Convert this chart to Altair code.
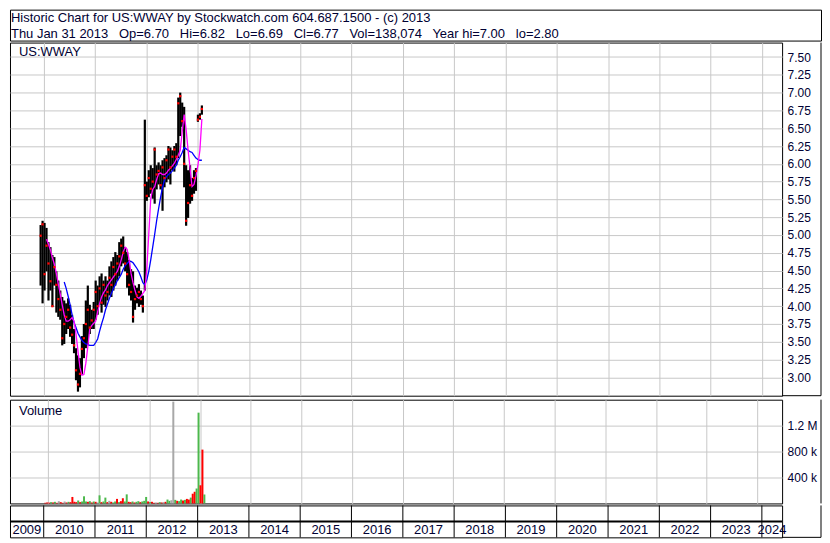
import altair as alt
import pandas as pd

FONT = "Liberation Sans"
TEXT_COLOR = "#000033"

# ---------------- text ----------------
title_line1 = "Historic Chart for US:WWAY by Stockwatch.com 604.687.1500 - (c) 2013"
title_line2_parts = ["Thu Jan 31 2013", "Op=6.70", "Hi=6.82", "Lo=6.69", "Cl=6.77",
                     "Vol=138,074", "Year hi=7.00", "lo=2.80"]
symbol_label = "US:WWAY"
volume_label = "Volume"

# ---------------- data (bi-weekly bars, last = Jan 31 2013) ----------------
first_bar_date = "2009-12-10"
bar_high = [5.14, 5.20, 5.17, 5.10, 4.90, 4.83, 4.72, 4.69, 4.49, 4.36,
            4.22, 4.13, 4.08, 4.04, 4.11, 4.02, 3.88, 3.68, 3.41, 3.31,
            3.27, 3.58, 3.75, 4.08, 4.29, 4.02, 3.95, 4.06, 4.36, 4.29,
            4.42, 4.46, 4.36, 4.42, 4.36, 4.56, 4.63, 4.69, 4.76, 4.72,
            4.90, 4.95, 4.98, 4.83, 4.76, 4.65, 4.52, 4.49, 4.29, 4.26,
            4.31, 4.22, 4.15, 6.62, 5.75, 5.91, 5.98, 5.94, 6.23, 5.98,
            6.02, 5.98, 6.05, 6.08, 6.12, 6.25, 6.23, 6.19, 6.25, 6.29,
            6.93, 7.00, 6.86, 6.80, 5.98, 5.91, 5.98, 5.80, 5.91, 5.94,
            6.69, 6.71, 6.82]
bar_low = [4.29, 4.04, 4.22, 4.49, 4.08, 4.22, 3.99, 4.29, 3.91, 3.85,
           3.81, 3.45, 3.47, 3.61, 3.68, 3.57, 3.47, 3.34, 2.96, 2.80,
           2.86, 3.04, 3.27, 3.41, 3.45, 3.61, 3.68, 3.68, 3.81, 3.88,
           4.02, 3.91, 4.02, 3.99, 4.08, 4.15, 4.13, 4.22, 4.29, 4.36,
           4.42, 4.56, 4.60, 4.49, 4.26, 4.15, 4.08, 3.77, 3.95, 4.04,
           3.99, 4.02, 3.91, 4.22, 5.48, 5.53, 5.58, 5.51, 5.44, 5.64,
           5.71, 5.64, 5.34, 5.67, 5.74, 5.78, 5.71, 5.91, 5.89, 5.98,
           6.08, 6.39, 6.52, 5.67, 5.13, 5.24, 5.44, 5.48, 5.58, 5.62,
           6.59, 6.62, 6.69]
bar_close = [4.99, 5.15, 4.45, 4.85, 4.60, 4.35, 4.00, 4.55, 4.30, 4.10,
             3.95, 3.55, 3.75, 3.85, 3.95, 3.70, 3.60, 3.45, 3.10, 2.90,
             3.05, 3.40, 3.55, 3.75, 3.95, 3.70, 3.80, 3.95, 4.20, 4.00,
             4.25, 4.05, 4.30, 4.15, 4.20, 4.40, 4.30, 4.55, 4.45, 4.60,
             4.70, 4.85, 4.75, 4.60, 4.45, 4.30, 4.20, 3.85, 4.10, 4.15,
             4.20, 4.10, 4.00, 5.70, 5.55, 5.80, 5.65, 5.75, 6.20, 5.85,
             5.90, 5.70, 5.95, 5.80, 6.05, 6.20, 5.95, 6.10, 6.20, 6.10,
             6.85, 6.95, 6.60, 6.00, 5.20, 5.45, 5.70, 5.55, 5.80, 5.90,
             6.62, 6.66, 6.77]
ma_short = [None, None, None, 4.94, 4.87, 4.79, 4.68, 4.59, 4.46, 4.31,
            4.17, 4.02, 3.88, 3.79, 3.79, 3.81, 3.84, 3.79, 3.61, 3.37,
            3.14, 3.03, 3.04, 3.20, 3.43, 3.68, 3.73, 3.76, 3.79, 3.92,
            4.04, 4.13, 4.19, 4.23, 4.29, 4.33, 4.37, 4.41, 4.45, 4.49,
            4.56, 4.65, 4.76, 4.83, 4.80, 4.65, 4.46, 4.33, 4.22, 4.13,
            4.11, 4.14, 4.18, 4.22, 4.53, 5.01, 5.51, 5.64, 5.68, 5.78,
            5.86, 5.87, 5.85, 5.85, 5.87, 5.91, 5.94, 5.97, 6.01, 6.06,
            6.12, 6.19, 6.45, 6.69, 6.48, 6.19, 5.94, 5.68, 5.71, 5.83,
            5.98, 6.19, 6.63]
ma_long = [None, None, None, None, None, None, None, None, None, None,
           None, None, 4.34, 4.25, 4.14, 4.02, 3.88, 3.77, 3.70, 3.62,
           3.57, 3.52, 3.49, 3.47, 3.46, 3.45, 3.45, 3.45, 3.49, 3.54,
           3.65, 3.75, 3.84, 3.95, 4.03, 4.11, 4.18, 4.25, 4.30, 4.36,
           4.40, 4.45, 4.52, 4.57, 4.60, 4.63, 4.63, 4.61, 4.57, 4.53,
           4.48, 4.41, 4.33, 4.30, 4.37, 4.49, 4.65, 4.83, 5.01, 5.20,
           5.37, 5.53, 5.67, 5.77, 5.82, 5.85, 5.87, 5.90, 5.94, 5.98,
           6.05, 6.10, 6.16, 6.23, 6.21, 6.19, 6.17, 6.16, 6.12, 6.08,
           6.06, 6.05, 6.05]
volume_thousands = [10, 15, 12, 20, 15, 25, 10, 35, 20, 10,
                    30, 15, 25, 20, 100, 25, 20, 45, 20, 30,
                    110, 30, 25, 35, 15, 30, 25, 15, 125, 20,
                    30, 90, 20, 40, 25, 15, 30, 70, 20, 35,
                    80, 30, 140, 25, 20, 30, 15, 25, 35, 20,
                    30, 40, 100, 30, 20, 25, 10, 15, 10, 20,
                    15, 20, 25, 60, 40, 50, 1570, 55, 40, 35,
                    60, 45, 55, 70, 60, 90, 150, 180, 230, 1400,
                    280, 830, 138]
volume_dir = ["d", "d", "d", "u", "d", "u", "d", "f", "d", "d",
              "f", "d", "u", "d", "d", "d", "d", "u", "d", "u",
              "u", "u", "d", "u", "d", "u", "d", "f", "u", "d",
              "u", "u", "d", "f", "d", "u", "u", "d", "u", "d",
              "d", "u", "u", "d", "d", "u", "d", "u", "u", "d",
              "u", "u", "u", "d", "u", "d", "d", "f", "d", "u",
              "d", "f", "d", "u", "u", "f", "f", "u", "d", "u",
              "u", "d", "u", "d", "d", "u", "d", "d", "u", "u",
              "d", "d", "u"]

price_ticks = [3.00, 3.25, 3.50, 3.75, 4.00, 4.25, 4.50, 4.75, 5.00,
               5.25, 5.50, 5.75, 6.00, 6.25, 6.50, 6.75, 7.00, 7.25, 7.50]
volume_ticks = [400000, 800000, 1200000]
label_years = list(range(2009, 2025))
grid_years = list(range(2010, 2025))

# ---------------- layout ----------------
W = 774          # plot width
TOTAL_W = 813    # including right label column
H_TITLE = 31
H_PRICE = 354
H_VOL = 104
H_BOTTOM = 32

x_start = pd.Timestamp("2009-05-06")
x_end = pd.Timestamp("2024-05-24")
xscale = alt.Scale(domain=[alt.DateTime(year=2009, month=5, date=6),
                           alt.DateTime(year=2024, month=5, date=24)])
price_scale = alt.Scale(domain=[2.743, 7.703], zero=False, nice=False)
vol_scale = alt.Scale(domain=[0, 1600000], nice=False)

n = len(bar_high)
dates = pd.date_range(first_bar_date, periods=n, freq="14D")
bars = pd.DataFrame({
    "date": dates, "high": bar_high, "low": bar_low, "close": bar_close,
    "ma_short": ma_short, "ma_long": ma_long,
    "volume": [v * 1000 for v in volume_thousands], "dir": volume_dir,
})

grid_axis = alt.Axis(values=[alt.DateTime(year=y, month=1, date=1) for y in grid_years],
                     labels=False, ticks=False, domain=False, grid=True,
                     gridColor="#c8c8c8", gridWidth=1, title=None)

one = pd.DataFrame({"k": [0]})


def right_frame(height, close_bottom):
    layers = [alt.Chart(one).mark_rule(color="black", strokeWidth=1).encode(
        x=alt.value(TOTAL_W), y=alt.value(0), y2=alt.value(height))]
    if close_bottom:
        layers.append(alt.Chart(one).mark_rule(color="black", strokeWidth=1).encode(
            x=alt.value(W), x2=alt.value(TOTAL_W), y=alt.value(height)))
    return layers


# ---------------- title strip ----------------
sep = "\u00a0\u00a0 "
title_df = pd.DataFrame({"t": [title_line1]})
title2_df = pd.DataFrame({"t": [sep.join(title_line2_parts)]})
title_chart = alt.layer(
    alt.Chart(title_df).mark_text(align="left", baseline="alphabetic", font=FONT,
                                  fontSize=13, color=TEXT_COLOR).encode(
        x=alt.value(1), y=alt.value(12.5), text="t:N"),
    alt.Chart(title2_df).mark_text(align="left", baseline="alphabetic", font=FONT,
                                   fontSize=13, color=TEXT_COLOR).encode(
        x=alt.value(1), y=alt.value(28), text="t:N"),
).properties(width=TOTAL_W, height=H_TITLE)

# ---------------- price panel ----------------
base = alt.Chart(bars).encode(x=alt.X("date:T", scale=xscale, axis=grid_axis))
price_axis = alt.Axis(values=price_ticks, format=".2f", orient="right", ticks=False,
                      domain=False, grid=True, gridColor="#c8c8c8", gridWidth=1,
                      labelOverlap=False, labelFont=FONT, labelFontSize=12,
                      labelColor=TEXT_COLOR, labelPadding=5, title=None)


def py(field):
    return alt.Y(field, type="quantitative", scale=price_scale, axis=price_axis)


price_bars = base.mark_rule(color="black", strokeWidth=2.2).encode(y=py("high"), y2="low:Q")
closes = base.mark_square(color="#ff0000", size=5, opacity=1).encode(y=py("close"))
short_line = base.mark_line(color="#ff00ff", strokeWidth=1.3).encode(y=py("ma_short"))
long_line = base.mark_line(color="#0000ff", strokeWidth=1.3).encode(y=py("ma_long"))
symbol_text = alt.Chart(pd.DataFrame({"t": [symbol_label]})).mark_text(
    align="left", baseline="alphabetic", font=FONT, fontSize=13, color=TEXT_COLOR).encode(
    x=alt.value(9), y=alt.value(13), text="t:N")

price_chart = alt.layer(price_bars, long_line, short_line, closes, symbol_text,
                        *right_frame(H_PRICE, True)).properties(width=W, height=H_PRICE)

# ---------------- volume panel ----------------
vol_axis = alt.Axis(values=volume_ticks, orient="right", ticks=False, domain=False,
                    grid=True, gridColor="#c8c8c8", gridWidth=1, labelOverlap=False,
                    labelExpr="datum.value >= 1000000 ? format(datum.value / 1000000, '.1f') + ' M' : format(datum.value / 1000, 'd') + ' k'",
                    labelFont=FONT, labelFontSize=12, labelColor=TEXT_COLOR,
                    labelPadding=5, title=None)
vol_bars = base.mark_bar(size=2).encode(
    y=alt.Y("volume:Q", scale=vol_scale, axis=vol_axis),
    color=alt.Color("dir:N", scale=alt.Scale(domain=["u", "d", "f"],
                                             range=["#4cb84c", "#ff0000", "#a8a8a8"]),
                    legend=None))
vol_text = alt.Chart(pd.DataFrame({"t": [volume_label]})).mark_text(
    align="left", baseline="alphabetic", font=FONT, fontSize=13, color=TEXT_COLOR).encode(
    x=alt.value(9), y=alt.value(15), text="t:N")
volume_chart = alt.layer(vol_bars, vol_text, *right_frame(H_VOL, False)).properties(
    width=W, height=H_VOL)

# ---------------- year strip ----------------
bounds_df = pd.DataFrame({"d": [pd.Timestamp(year=y, month=1, day=1) for y in grid_years]})
mids = []
for y in label_years:
    lo = max(pd.Timestamp(year=y, month=1, day=1), x_start)
    hi = min(pd.Timestamp(year=y + 1, month=1, day=1), x_end)
    mids.append(lo + (hi - lo) / 2)
labels_df = pd.DataFrame({"mid": mids, "label": [str(y) for y in label_years]})

sep_rules = alt.Chart(bounds_df).mark_rule(color="black", strokeWidth=1).encode(
    x=alt.X("d:T", scale=xscale, axis=None), y=alt.value(0), y2=alt.value(H_BOTTOM))
mid_line = alt.Chart(one).mark_rule(color="black", strokeWidth=2).encode(
    x=alt.value(0), x2=alt.value(W), y=alt.value(H_BOTTOM / 2))
year_text = alt.Chart(labels_df).mark_text(font=FONT, fontSize=13, color=TEXT_COLOR,
                                           baseline="alphabetic").encode(
    x=alt.X("mid:T", scale=xscale, axis=None), y=alt.value(H_BOTTOM - 3), text="label:N")
bottom_chart = alt.layer(sep_rules, mid_line, year_text,
                         *right_frame(H_BOTTOM, True)).properties(width=W, height=H_BOTTOM)

panels = alt.vconcat(price_chart, volume_chart, spacing=2)
chart = alt.vconcat(title_chart, panels, bottom_chart, spacing=0).properties(
    padding=0, background="white"
).configure_view(stroke="black", strokeWidth=1)

chart.save("out.html", embed_options={"renderer": "svg", "actions": False})
